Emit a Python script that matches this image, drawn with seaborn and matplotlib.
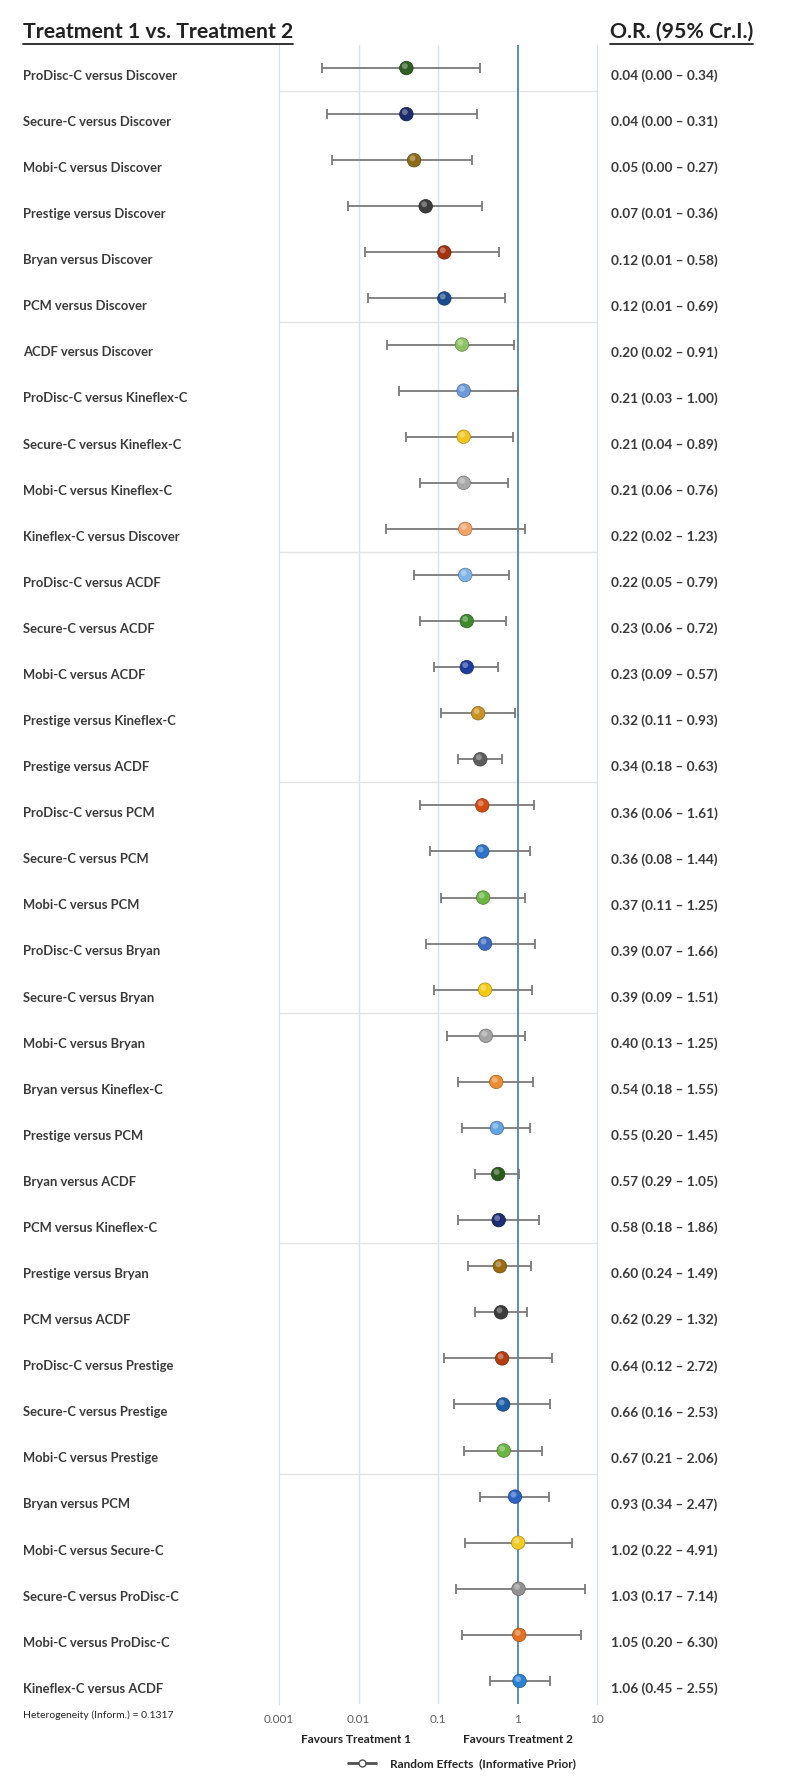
import matplotlib
matplotlib.use('Agg')

import numpy as np
import pandas as pd
import seaborn as sns
import matplotlib.pyplot as plt
from matplotlib import transforms
from matplotlib.lines import Line2D
from matplotlib.colors import to_rgb

comparisons = [
    'ProDisc-C versus Discover', 'Secure-C versus Discover', 'Mobi-C versus Discover',
    'Prestige versus Discover', 'Bryan versus Discover', 'PCM versus Discover',
    'ACDF versus Discover', 'ProDisc-C versus Kineflex-C', 'Secure-C versus Kineflex-C',
    'Mobi-C versus Kineflex-C', 'Kineflex-C versus Discover', 'ProDisc-C versus ACDF',
    'Secure-C versus ACDF', 'Mobi-C versus ACDF', 'Prestige versus Kineflex-C',
    'Prestige versus ACDF', 'ProDisc-C versus PCM', 'Secure-C versus PCM',
    'Mobi-C versus PCM', 'ProDisc-C versus Bryan', 'Secure-C versus Bryan',
    'Mobi-C versus Bryan', 'Bryan versus Kineflex-C', 'Prestige versus PCM',
    'Bryan versus ACDF', 'PCM versus Kineflex-C', 'Prestige versus Bryan',
    'PCM versus ACDF', 'ProDisc-C versus Prestige', 'Secure-C versus Prestige',
    'Mobi-C versus Prestige', 'Bryan versus PCM', 'Mobi-C versus Secure-C',
    'Secure-C versus ProDisc-C', 'Mobi-C versus ProDisc-C', 'Kineflex-C versus ACDF',
]
odds_ratio = [0.04, 0.04, 0.05, 0.07, 0.12, 0.12, 0.20, 0.21, 0.21, 0.21, 0.22, 0.22,
              0.23, 0.23, 0.32, 0.34, 0.36, 0.36, 0.37, 0.39, 0.39, 0.40, 0.54, 0.55,
              0.57, 0.58, 0.60, 0.62, 0.64, 0.66, 0.67, 0.93, 1.02, 1.03, 1.05, 1.06]
ci_low = [0.0035, 0.0040, 0.0046, 0.0073, 0.012, 0.013, 0.023, 0.032, 0.04, 0.06, 0.022, 0.05,
          0.06, 0.09, 0.11, 0.18, 0.06, 0.08, 0.11, 0.07, 0.09, 0.13, 0.18, 0.20,
          0.29, 0.18, 0.24, 0.29, 0.12, 0.16, 0.21, 0.34, 0.22, 0.17, 0.20, 0.45]
ci_high = [0.34, 0.31, 0.27, 0.36, 0.58, 0.69, 0.91, 1.00, 0.89, 0.76, 1.23, 0.79,
           0.72, 0.57, 0.93, 0.63, 1.61, 1.44, 1.25, 1.66, 1.51, 1.25, 1.55, 1.45,
           1.05, 1.86, 1.49, 1.32, 2.72, 2.53, 2.06, 2.47, 4.91, 7.14, 6.30, 2.55]
dot_colors = ['#2f5d22', '#1b2b6b', '#8c6a16', '#3b3b3b', '#a1330f', '#1d4c8c',
              '#8dc263', '#6d9bd8', '#f2c41f', '#a9a9a9', '#f0a468', '#7fb2e5',
              '#3c8a2c', '#1c3c9c', '#c99222', '#5e5e5e', '#d24b12', '#2c72c9',
              '#6cb443', '#3b6cc2', '#f2cb12', '#a3a3a3', '#ea8c32', '#62a3e2',
              '#2b5b1c', '#1b2c72', '#9b6b12', '#3b3b3b', '#b23c12', '#1c5ca2',
              '#6cb443', '#2c62c2', '#f2ca22', '#929292', '#e27222', '#2b82d2']
x_ticks = [0.001, 0.01, 0.1, 1, 10]
x_tick_labels = ['0.001', '0.01', '0.1', '1', '10']

df = pd.DataFrame({'comparison': comparisons, 'odds_ratio': odds_ratio,
                   'lo': ci_low, 'hi': ci_high})
df['row'] = np.arange(1, len(df) + 1)

sns.set_style('white')
plt.rcParams['font.family'] = ['Lato', 'DejaVu Sans']

W, H = 800, 1786
fig = plt.figure(figsize=(W / 100, H / 100), dpi=100)
ax = fig.add_axes([279 / W, 1 - 1704 / H, (597 - 279) / W, (1704 - 45) / H])

ax.set_xscale('log')
ax.set_xlim(0.001, 10)
ax.set_ylim(36.5, 0.5)

# faint horizontal bands every five rows
ax.set_yticks(np.arange(1.5, 36, 5))
ax.set_yticklabels([])
ax.yaxis.grid(True, color='#e4e4e4', lw=1)
ax.xaxis.grid(False)
ax.axvline(0.01, color='#d5e3ef', lw=1, zorder=0)
ax.axvline(0.1, color='#d5e3ef', lw=1, zorder=0)
ax.axvline(1, color='#5a8cb6', lw=1.4, zorder=1)
for s in ['top', 'bottom']:
    ax.spines[s].set_visible(False)
for s in ['left', 'right']:
    ax.spines[s].set_color('#d5e3ef')

ax.errorbar(df.odds_ratio, df.row, xerr=[df.odds_ratio - df.lo, df.hi - df.odds_ratio],
            fmt='none', ecolor='#7a7a7a', elinewidth=1.3, capsize=3.5, capthick=1.3, zorder=2)

dark = [tuple(c * 0.7 for c in to_rgb(col)) for col in dot_colors]
light = [tuple(c + (1 - c) * 0.55 for c in to_rgb(col)) for col in dot_colors]
sns.scatterplot(data=df, x='odds_ratio', y='row', hue='comparison', palette=dot_colors,
                s=95, edgecolor=dark, linewidth=0.5, legend=False, ax=ax, zorder=3)
shine = transforms.offset_copy(ax.transData, fig=fig, x=-1.5, y=2, units='dots')
ax.scatter(df.odds_ratio, df.row, s=18, color=light, alpha=0.6, lw=0, zorder=4,
           transform=shine)

ax.set_xticks(x_ticks)
ax.set_xticklabels(x_tick_labels, color='#606060', fontsize=8.5)
ax.tick_params(axis='both', length=0, pad=7)
ax.set_xlabel('')
ax.set_ylabel('')

# row labels and estimates
row_tr = transforms.blended_transform_factory(fig.transFigure, ax.transData)
for _, r in df.iterrows():
    ax.text(23 / W, r.row + 0.17, r.comparison, transform=row_tr, fontsize=9.4,
            fontweight='bold', color='#3a3a3a', ha='left', va='center')
    ax.text(611 / W, r.row + 0.17, f'{r.odds_ratio:.2f} ({r.lo:.2f} \u2013 {r.hi:.2f})',
            transform=row_tr, fontsize=9.8, fontweight='bold', color='#3a3a3a',
            ha='left', va='center')

h1 = fig.text(23 / W, 1 - 32 / H, 'Treatment 1 vs. Treatment 2', fontsize=15.3,
              fontweight='bold', color='#222222', ha='left', va='center')
h2 = fig.text(610 / W, 1 - 32 / H, 'O.R. (95% Cr.I.)', fontsize=15.3,
              fontweight='bold', color='#222222', ha='left', va='center')

fig.text(23 / W, 1 - 1715 / H, 'Heterogeneity (Inform.) = 0.1317', fontsize=7.5,
         color='#222222', ha='left', va='center')

fav_tr = transforms.blended_transform_factory(ax.transData, ax.transAxes)
ax.text(0.0093, -0.0215, 'Favours Treatment 1', transform=fav_tr, fontsize=8.5,
        fontweight='bold', ha='center', va='center', color='#222222')
ax.text(1.0, -0.0215, 'Favours Treatment 2', transform=fav_tr, fontsize=8.5,
        fontweight='bold', ha='center', va='center', color='#222222')

handle = Line2D([], [], color='#505050', lw=2, marker='o', markersize=5,
                markerfacecolor='white', markeredgecolor='#505050')
fig.legend(handles=[handle], labels=['Random Effects  (Informative Prior)'], loc='center',
           bbox_to_anchor=(462 / W, 1 - 1764 / H), frameon=False,
           prop={'weight': 'bold', 'size': 8.5}, handlelength=2.4, handletextpad=1.2)

# underline the two headers
fig.canvas.draw()
renderer = fig.canvas.get_renderer()
for t in (h1, h2):
    bb = t.get_window_extent(renderer).transformed(fig.transFigure.inverted())
    fig.add_artist(Line2D([bb.x0, bb.x1], [bb.y0 - 1.5 / H, bb.y0 - 1.5 / H],
                          transform=fig.transFigure, color='#222222', lw=1.3))

plt.savefig('out.png', dpi=100)
